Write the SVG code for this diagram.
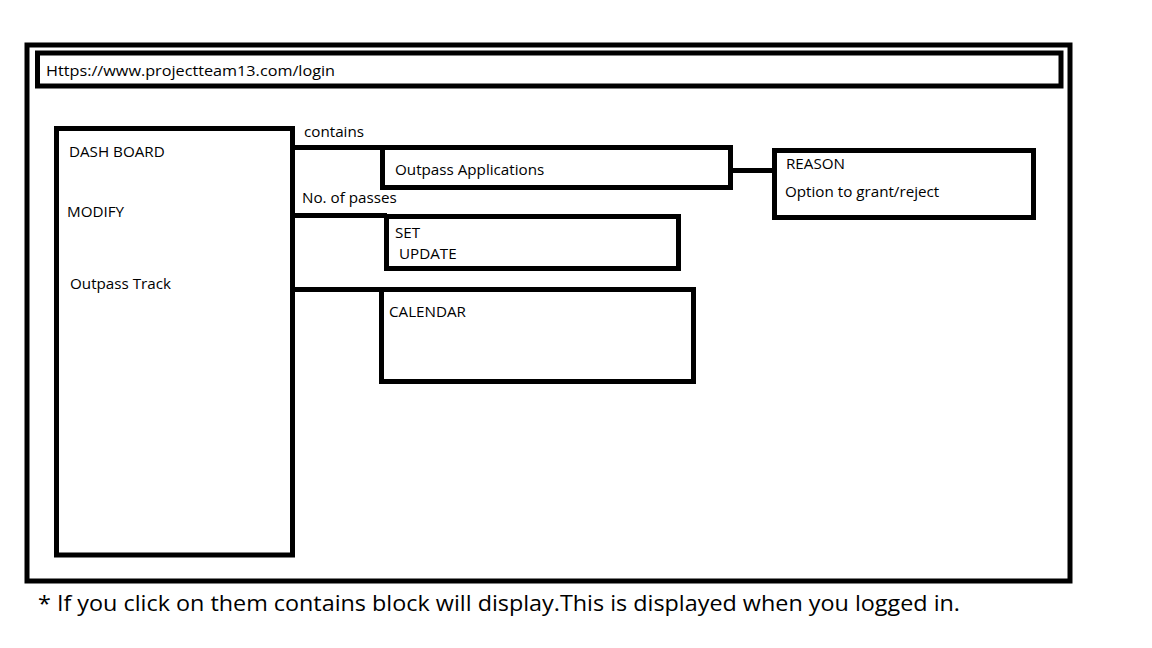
<svg xmlns="http://www.w3.org/2000/svg" width="1152" height="648" viewBox="0 0 1152 648">
<style>
.box{fill:#fff;stroke:#000;stroke-width:5}
.ln{fill:none;stroke:#000;stroke-width:5}
text{font-family:"Open Sans","Liberation Sans",sans-serif;font-size:15.2px;fill:#000}
.foot{font-size:22px}
</style>
<rect width="1152" height="648" fill="#fff"/>
<g id="frame"><rect class="box" x="27" y="45" width="1043" height="536"/></g>
<g id="url"><rect class="box" x="37.5" y="53" width="1023.5" height="33"/>
<text x="46" y="76" textLength="289" lengthAdjust="spacingAndGlyphs">Https://www.projectteam13.com/login</text></g>
<g id="connectors">
<path class="ln" d="M292 147.5H383M292 215.5H387M292 289.5H382M732 170.5H775"/>
</g>
<g id="dashboard"><rect class="box" x="56.5" y="128.5" width="236" height="426.5"/>
<text x="69" y="157">DASH BOARD</text>
<text x="67" y="217">MODIFY</text>
<text x="70" y="289">Outpass Track</text></g>
<g id="labels">
<text x="304" y="137">contains</text>
<text x="302" y="203">No. of passes</text></g>
<g id="outpass"><rect class="box" x="382.5" y="147.5" width="348" height="40"/>
<text x="395" y="175">Outpass Applications</text></g>
<g id="reason"><rect class="box" x="774.5" y="150.5" width="259" height="67"/>
<text x="786" y="169">REASON</text>
<text x="785" y="197">Option to grant/reject</text></g>
<g id="setupdate"><rect class="box" x="386.5" y="216.5" width="292" height="52"/>
<text x="395" y="238">SET</text>
<text x="399" y="259">UPDATE</text></g>
<g id="calendar"><rect class="box" x="381.5" y="289.5" width="312" height="92"/>
<text x="389" y="317">CALENDAR</text></g>
<text class="foot" x="38" y="611" textLength="922" lengthAdjust="spacingAndGlyphs">* If you click on them contains block will display.This is displayed when you logged in.</text>
</svg>
